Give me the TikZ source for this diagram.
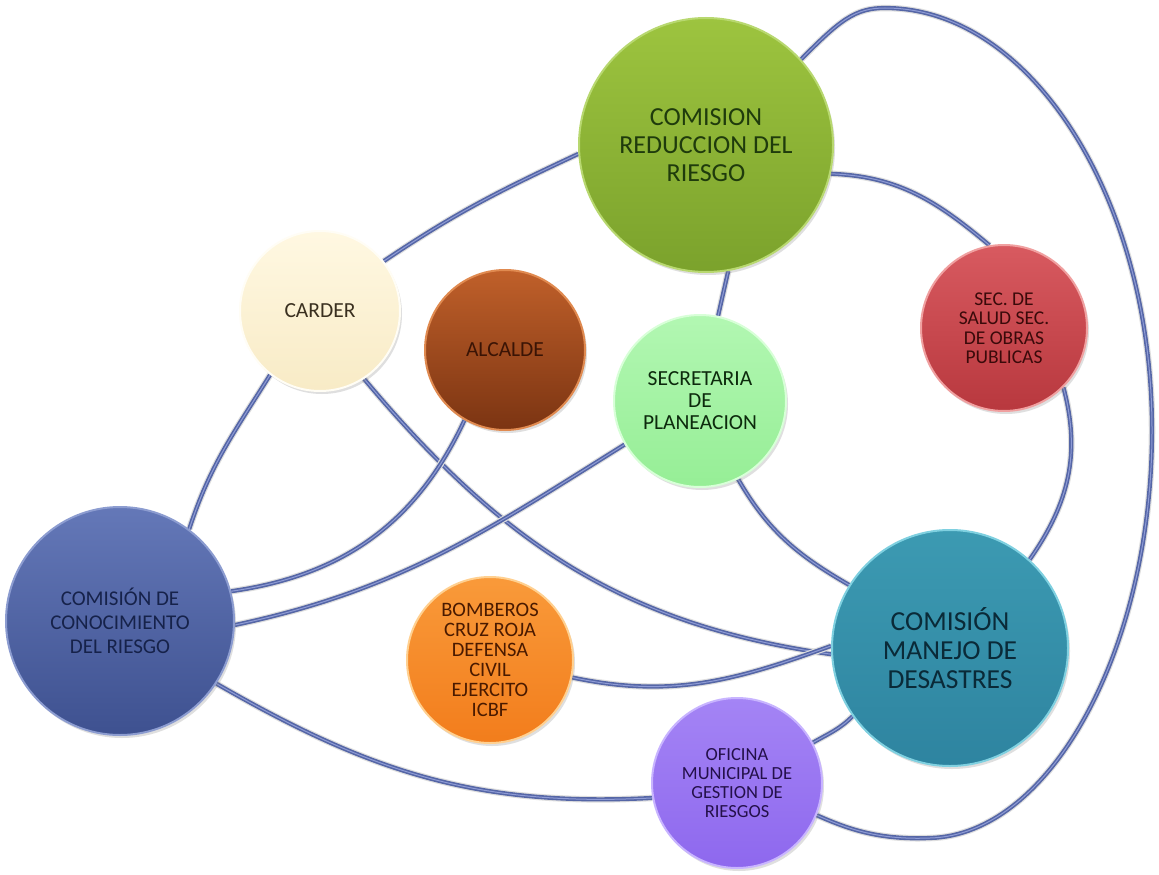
\documentclass[tikz,border=0pt]{standalone}
\usepackage{fontspec}
\setmainfont{Carlito}
\usetikzlibrary{shadows,backgrounds}
\definecolor{connblue}{HTML}{5566A6}
\definecolor{connhi}{HTML}{8E9BD6}
\definecolor{gTop}{HTML}{9DC43F}\definecolor{gBot}{HTML}{7BA22C}\definecolor{gRim}{HTML}{B8D870}\definecolor{gTxt}{HTML}{1F3B0C}
\definecolor{cTop}{HTML}{FFF8E2}\definecolor{cBot}{HTML}{F8EBC6}\definecolor{cRim}{HTML}{FFFDF5}\definecolor{cTxt}{HTML}{3A3020}
\definecolor{aTop}{HTML}{C0602A}\definecolor{aBot}{HTML}{7B3412}\definecolor{aRim}{HTML}{E08A50}\definecolor{aTxt}{HTML}{3A1405}
\definecolor{sTop}{HTML}{B2F7B2}\definecolor{sBot}{HTML}{96EE96}\definecolor{sRim}{HTML}{D8FFD8}\definecolor{sTxt}{HTML}{0D2A0D}
\definecolor{rTop}{HTML}{D85A60}\definecolor{rBot}{HTML}{B8383E}\definecolor{rRim}{HTML}{F0A0A0}\definecolor{rTxt}{HTML}{3A0A0A}
\definecolor{kTop}{HTML}{6478B8}\definecolor{kBot}{HTML}{3E5190}\definecolor{kRim}{HTML}{8C9CD0}\definecolor{kTxt}{HTML}{16224A}
\definecolor{bTop}{HTML}{F99A3A}\definecolor{bBot}{HTML}{F27D1C}\definecolor{bRim}{HTML}{FFD090}\definecolor{bTxt}{HTML}{4A1A00}
\definecolor{mTop}{HTML}{3C9AB2}\definecolor{mBot}{HTML}{2E84A0}\definecolor{mRim}{HTML}{7FD0E0}\definecolor{mTxt}{HTML}{0A2A38}
\definecolor{oTop}{HTML}{A484F5}\definecolor{oBot}{HTML}{8E68EE}\definecolor{oRim}{HTML}{C8B4FF}\definecolor{oTxt}{HTML}{24104A}
\tikzset{
  bub/.style={circle, inner sep=0pt, minimum size=#1, align=center, line width=2pt,
    drop shadow={opacity=0.25, shadow xshift=2pt, shadow yshift=-3pt}},
  skin/.style n args={4}{top color=#1, bottom color=#2, draw=#3, text=#4},
  conn/.style={line width=4.2pt, draw=connblue,
    preaction={draw=black!13, line width=6.5pt},
    postaction={draw=connhi, line width=1pt}},
}
\newcommand{\fs}[2]{\fontsize{#1}{#2}\selectfont}
\begin{document}
\begin{tikzpicture}[x=1pt,y=-1pt]
\useasboundingbox (0,0) rectangle (1159,875);

\node[bub=254pt, skin={gTop}{gBot}{gRim}{gTxt}, font=\fs{26}{28}] (green) at (706,145) {COMISION\\REDUCCION DEL\\RIESGO};
\node[bub=160pt, skin={cTop}{cBot}{cRim}{cTxt}, font=\fs{21.5}{23}] (carder) at (320,311) {CARDER};
\node[bub=160pt, skin={aTop}{aBot}{aRim}{aTxt}, font=\fs{21.5}{23}] (alcalde) at (505,350) {ALCALDE};
\node[bub=172pt, skin={sTop}{sBot}{sRim}{sTxt}, font=\fs{21.5}{22}] (secr) at (700,401) {SECRETARIA\\DE\\PLANEACION};
\node[bub=166pt, skin={rTop}{rBot}{rRim}{rTxt}, font=\fs{19.5}{19.5}] (salud) at (1004,328) {SEC. DE\\SALUD SEC.\\DE OBRAS\\PUBLICAS};
\node[bub=228pt, skin={kTop}{kBot}{kRim}{kTxt}, font=\fs{21}{24}] (conoc) at (120,621) {COMISIÓN DE\\CONOCIMIENTO\\DEL RIESGO};
\node[bub=166pt, skin={bTop}{bBot}{bRim}{bTxt}, font=\fs{20.5}{20}] (bomb) at (490,660) {BOMBEROS\\CRUZ ROJA\\DEFENSA\\CIVIL\\EJERCITO\\ICBF};
\node[bub=236pt, skin={mTop}{mBot}{mRim}{mTxt}, font=\fs{27.5}{29}] (manejo) at (950,648) {COMISIÓN\\MANEJO DE\\DESASTRES};
\node[bub=170pt, skin={oTop}{oBot}{oRim}{oTxt}, font=\fs{18.5}{19}] (ofic) at (737,783) {OFICINA\\MUNICIPAL DE\\GESTION DE\\RIESGOS};

\begin{pgfonlayer}{background}
\fill[white] (0,0) rectangle (1159,875);
\draw[conn] (carder.38) to[out=34, in=205] (green.184);
\draw[conn] (green.42) .. controls (840,20) and (855,8) .. (885,8)
   .. controls (1030,8) and (1152,197) .. (1152,430)
   .. controls (1152,650) and (1050,835) .. (930,838)
   .. controls (880,840) and (850,830) .. (ofic.-22);
\draw[conn] (green.-13) to[out=-2, in=140] (salud.100);
\draw[conn] (green.-80) -- (secr.78);
\draw[conn] (salud.-45) to[out=-75, in=55] (manejo.48);
\draw[conn] (carder.232) to[out=238, in=72] (conoc.53);
\draw[conn] (carder.-57) to[out=-50, in=172] (manejo.183);
\draw[conn] (alcalde.240) to[out=245, in=8] (conoc.15);
\draw[conn] (secr.210) to[out=212, in=12] (conoc.-2);
\draw[conn] (secr.-64) to[out=-60, in=150] (manejo.148);
\draw[conn] (bomb.-12) to[out=-12, in=200] (manejo.179);
\draw[conn] (conoc.-33) to[out=-30, in=183] (ofic.190);
\draw[conn] (ofic.28) to[out=30, in=225] (manejo.215);
\end{pgfonlayer}
\end{tikzpicture}
\end{document}
